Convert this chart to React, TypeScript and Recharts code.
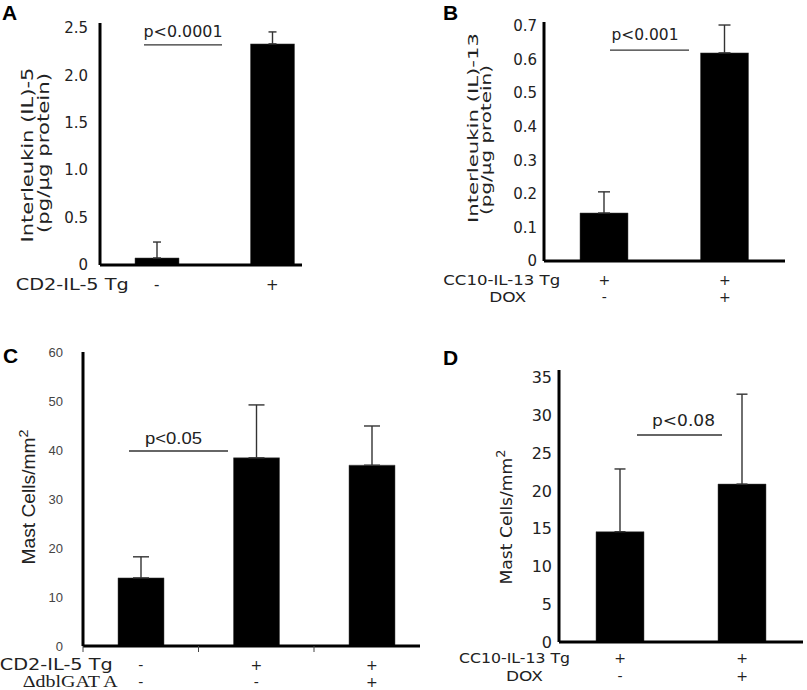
import React from 'react';
import { BarChart, Bar, XAxis, YAxis, ErrorBar, ReferenceLine } from 'recharts';

// Panel A - IL-5 protein
const aRows = ['CD2-IL-5 Tg'];
const aSigns = [['-', '+']];
const aMeans = [0.074, 2.33];
const aErrs = [0.168, 0.126];
const aTicks = [0, 0.5, 1.0, 1.5, 2.0, 2.5];

// Panel B - IL-13 protein
const bRows = ['CC10-IL-13 Tg', 'DOX'];
const bSigns = [['+', '+'], ['-', '+']];
const bMeans = [0.143, 0.62];
const bErrs = [0.063, 0.083];
const bTicks = [0, 0.1, 0.2, 0.3, 0.4, 0.5, 0.6, 0.7];

// Panel C - mast cells, IL-5
const cRows = ['CD2-IL-5 Tg', '\u0394dblGAT A'];
const cSigns = [['-', '+', '+'], ['-', '-', '+']];
const cMeans = [13.9, 38.4, 36.9];
const cErrs = [4.3, 10.8, 8.0];
const cTicks = [0, 10, 20, 30, 40, 50, 60];

// Panel D - mast cells, IL-13
const dRows = ['CC10-IL-13 Tg', 'DOX'];
const dSigns = [['+', '+'], ['-', '+']];
const dMeans = [14.6, 20.9];
const dErrs = [8.3, 11.9];
const dTicks = [0, 5, 10, 15, 20, 25, 30, 35];

const VERDANA = '"DejaVu Sans", Verdana, sans-serif';
const ARIAL = '"Liberation Sans", Arial, sans-serif';
const TIMES = '"Liberation Serif", "Times New Roman", serif';

const toRows = (means: number[], errs: number[]) =>
  means.map((m, i) => ({ key: `g${i}`, mean: m, err: [0, errs[i]] }));

const SignTick = (props: any) => {
  const { x, y, payload, index, cfg } = props;
  const i = payload?.index ?? index;
  const half = cfg.edgeBand ? cfg.edgeBand / 2 : 0;
  return (
    <g>
      {cfg.edgeBand && <line x1={x - half} x2={x - half} y1={y} y2={y + 6} stroke="#444" strokeWidth={1} />}
      {cfg.edgeBand && i === cfg.means.length - 1 && (
        <line x1={x + half} x2={x + half} y1={y} y2={y + 6} stroke="#444" strokeWidth={1} />
      )}
      {cfg.signs.map((row: string[], r: number) => (
        <text key={r} x={x} y={y + cfg.rowDy[r]} textAnchor="middle" fontFamily={VERDANA} fontSize={cfg.signSize} fill="#222">
          {row[i]}
        </text>
      ))}
      {i === 0 &&
        cfg.rows.map((label: string, r: number) => (
          <text
            key={'l' + r}
            x={x - cfg.rowGap[r]}
            y={y + cfg.rowDy[r]}
            textAnchor="end"
            fontFamily={cfg.rowFont[r]}
            fontSize={cfg.rowSize[r]}
            textLength={cfg.rowLen[r]}
            lengthAdjust="spacingAndGlyphs"
            fill="#222"
          >
            {label}
          </text>
        ))}
    </g>
  );
};

const SideLabel = ({ cfg }: any) => (
  <g>
    {cfg.yLabel.map((ln: any, k: number) => (
      <text
        key={k}
        transform={`translate(${ln.x},${ln.y}) rotate(-90)`}
        textAnchor="middle"
        fontFamily={cfg.labelFont}
        fontSize={cfg.labelSize}
        textLength={ln.len}
        lengthAdjust="spacingAndGlyphs"
        fill="#222"
      >
        {ln.text}
        {ln.sup && (
          <tspan dy={-7} fontSize={cfg.labelSize * 0.75}>
            {ln.sup}
          </tspan>
        )}
      </text>
    ))}
    <text x={cfg.letter[0]} y={cfg.letter[1]} fontFamily={ARIAL} fontWeight="bold" fontSize={21} fill="#000">
      {cfg.name}
    </text>
  </g>
);

const PBracket = (props: any) => {
  const { x1, y1, p } = props;
  return (
    <g>
      <line x1={x1 + p.span[0]} x2={x1 + p.span[1]} y1={y1} y2={y1} stroke="#333" strokeWidth={1.3} />
      <text
        x={x1 + p.textX}
        y={y1 + p.textDy}
        textAnchor="middle"
        fontFamily={p.font}
        fontSize={p.size}
        textLength={p.len}
        lengthAdjust="spacingAndGlyphs"
        fill="#222"
      >
        {p.text}
      </text>
    </g>
  );
};

const Panel = ({ cfg }: any) => {
  const data = toRows(cfg.means, cfg.errs);
  return (
    <div style={{ position: 'absolute', left: cfg.left, top: cfg.top }}>
      <BarChart width={cfg.width} height={cfg.height} data={data} margin={cfg.margin} barCategoryGap={0}>
        <XAxis
          dataKey="key"
          height={1}
          axisLine={{ stroke: '#000', strokeWidth: 3 }}
          tickLine={false}
          tickSize={0}
          tickMargin={0}
          padding={cfg.padding}
          interval={0}
          tick={(p: any) => <SignTick {...p} cfg={cfg} />}
        />
        <YAxis
          width={cfg.yWidth}
          domain={cfg.domain}
          ticks={cfg.ticks}
          interval={0}
          allowDataOverflow
          axisLine={{ stroke: '#000', strokeWidth: 3 }}
          tickLine={false}
          tickSize={0}
          tickMargin={cfg.tickMargin}
          tick={{ fontFamily: cfg.tickFont, fontSize: cfg.tickSize, fill: cfg.tickColor }}
          tickFormatter={cfg.fmt}
          label={{ content: () => <SideLabel cfg={cfg} /> }}
        />
        <Bar dataKey="mean" fill="#000" stroke="#444" strokeWidth={0.5} barSize={cfg.barSize} isAnimationActive={false}>
          <ErrorBar dataKey="err" direction="y" width={cfg.capWidth} stroke="#333" strokeWidth={1.4} isAnimationActive={false} />
        </Bar>
        <ReferenceLine y={cfg.p.level} shape={(sp: any) => <PBracket {...sp} p={cfg.p} />} />
      </BarChart>
    </div>
  );
};

const panelA = {
  name: 'A', left: 0, top: 0, width: 340, height: 320,
  margin: { top: 23, right: 38, bottom: 54, left: 0 }, yWidth: 100,
  padding: { left: -1, right: -28 }, barSize: 44, capWidth: 4,
  means: aMeans, errs: aErrs, ticks: aTicks, domain: [0, 2.55],
  fmt: (v: number) => (v === 0 ? '0' : v.toFixed(1)),
  tickFont: VERDANA, tickSize: 15, tickColor: '#222', tickMargin: 12, signSize: 15,
  rows: aRows, signs: aSigns, rowDy: [25], rowGap: [28], rowLen: [113], rowSize: [16], rowFont: [VERDANA],
  labelFont: VERDANA, labelSize: 16,
  yLabel: [
    { text: 'Interleukin (IL)-5', x: 33, y: 155, len: 175 },
    { text: '(pg/\u03bcg protein)', x: 49, y: 153, len: 160 },
  ],
  letter: [2, 20],
  p: { text: 'p<0.0001', level: 2.32, span: [44, 122], textX: 83, textDy: -8, len: 79, font: VERDANA, size: 15 },
};

const panelB = {
  name: 'B', left: 400, top: 0, width: 407, height: 320,
  margin: { top: 22, right: 22, bottom: 58, left: 0 }, yWidth: 144,
  padding: { left: 0, right: 0 }, barSize: 48, capWidth: 6,
  means: bMeans, errs: bErrs, ticks: bTicks, domain: [0, 0.712],
  fmt: (v: number) => (v === 0 ? '0' : v.toFixed(1)),
  tickFont: VERDANA, tickSize: 15, tickColor: '#222', tickMargin: 7, signSize: 14,
  rows: bRows, signs: bSigns, rowDy: [24, 41], rowGap: [44, 78], rowLen: [117, 37], rowSize: [14, 14], rowFont: [VERDANA, VERDANA],
  labelFont: VERDANA, labelSize: 13.5,
  yLabel: [
    { text: 'Interleukin (IL)-13', x: 78, y: 128, len: 190 },
    { text: '(pg/\u03bcg protein)', x: 91, y: 140, len: 150 },
  ],
  letter: [43, 20],
  p: { text: 'p<0.001', level: 0.6285, span: [66, 145], textX: 101, textDy: -10, len: 67, font: VERDANA, size: 15 },
};

const panelC = {
  name: 'C', left: 0, top: 330, width: 420, height: 360,
  margin: { top: 22, right: 0, bottom: 43, left: 0 }, yWidth: 83,
  padding: { left: 0, right: -9.5 }, barSize: 46, capWidth: 8, edgeBand: 115.5,
  means: cMeans, errs: cErrs, ticks: cTicks, domain: [0, 60],
  fmt: (v: number) => String(v),
  tickFont: ARIAL, tickSize: 13, tickColor: '#444', tickMargin: 20, signSize: 14,
  rows: cRows, signs: cSigns, rowDy: [24, 41], rowGap: [28, 23], rowLen: [113, 95], rowSize: [15, 16], rowFont: [VERDANA, TIMES],
  labelFont: ARIAL, labelSize: 18,
  yLabel: [{ text: 'Mast Cells/mm', sup: '2', x: 35, y: 167, len: 135 }],
  letter: [3, 33],
  p: { text: 'p<0.05', level: 39.8, span: [46, 145], textX: 90.5, textDy: -7, len: 57, font: ARIAL, size: 17 },
};

const panelD = {
  name: 'D', left: 420, top: 330, width: 387, height: 360,
  margin: { top: 40, right: 4, bottom: 47, left: 0 }, yWidth: 139,
  padding: { left: 0, right: 0 }, barSize: 48, capWidth: 5.5,
  means: dMeans, errs: dErrs, ticks: dTicks, domain: [0, 36],
  fmt: (v: number) => String(v),
  tickFont: VERDANA, tickSize: 16, tickColor: '#222', tickMargin: 7, signSize: 14,
  rows: dRows, signs: dSigns, rowDy: [21, 39], rowGap: [50, 77], rowLen: [111, 37], rowSize: [14, 14], rowFont: [VERDANA, VERDANA],
  labelFont: VERDANA, labelSize: 16,
  yLabel: [{ text: 'Mast Cells/mm', sup: '2', x: 92, y: 187, len: 135 }],
  letter: [23, 35],
  p: { text: 'p<0.08', level: 27.4, span: [78, 163], textX: 124.5, textDy: -9, len: 63, font: VERDANA, size: 15 },
};

export default function App() {
  return (
    <div style={{ position: 'absolute', left: 0, top: 0, width: 807, height: 690, background: '#fff', overflow: 'hidden' }}>
      <Panel cfg={panelA} />
      <Panel cfg={panelB} />
      <Panel cfg={panelC} />
      <Panel cfg={panelD} />
    </div>
  );
}
